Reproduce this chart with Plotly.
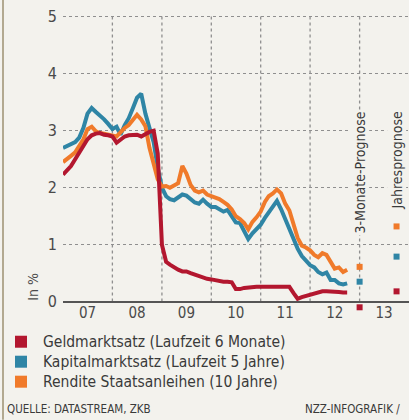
import plotly.graph_objects as go
import pandas as pd

# ---------------- data ----------------
dates = pd.date_range("2007-01-01", periods=70, freq="MS")

geldmarkt = [2.23, 2.30, 2.38, 2.50, 2.62, 2.75, 2.85, 2.92, 2.95, 2.96, 2.93, 2.92,
             2.90, 2.79, 2.85, 2.90, 2.92, 2.92, 2.93, 2.90, 2.95, 2.98, 3.00, 2.60,
             1.00, 0.70, 0.65, 0.60, 0.56, 0.53, 0.53, 0.50, 0.47, 0.44, 0.42, 0.40,
             0.39, 0.37, 0.36, 0.35, 0.35, 0.34, 0.22, 0.22, 0.24, 0.25, 0.25, 0.26,
             0.26, 0.26, 0.26, 0.26, 0.26, 0.26, 0.26, 0.26, 0.15, 0.05, 0.08, 0.10,
             0.12, 0.14, 0.16, 0.18, 0.18, 0.18, 0.17, 0.17, 0.16, 0.16]

kapitalmarkt = [2.70, 2.73, 2.76, 2.80, 2.88, 3.05, 3.30, 3.40, 3.33, 3.27, 3.20, 3.12,
                3.03, 3.07, 2.93, 3.10, 3.22, 3.40, 3.58, 3.65, 3.30, 3.05, 2.80, 2.35,
                2.00, 1.85, 1.80, 1.78, 1.82, 1.88, 1.86, 1.80, 1.74, 1.72, 1.79, 1.72,
                1.66, 1.66, 1.62, 1.58, 1.61, 1.48, 1.39, 1.38, 1.25, 1.10, 1.20, 1.28,
                1.35, 1.47, 1.57, 1.66, 1.77, 1.62, 1.45, 1.28, 1.10, 0.93, 0.80, 0.72,
                0.64, 0.60, 0.52, 0.48, 0.51, 0.38, 0.38, 0.32, 0.30, 0.32]

rendite = [2.45, 2.52, 2.56, 2.62, 2.72, 2.85, 3.03, 3.07, 2.99, 2.96, 2.95, 2.93,
           2.91, 2.90, 2.97, 3.05, 3.10, 3.18, 3.28, 3.20, 3.08, 2.70, 2.40, 2.15,
           2.02, 2.03, 2.00, 2.04, 2.08, 2.38, 2.25, 2.05, 1.95, 1.92, 1.95, 1.88,
           1.85, 1.82, 1.80, 1.75, 1.70, 1.62, 1.50, 1.45, 1.38, 1.27, 1.40, 1.48,
           1.58, 1.75, 1.85, 1.90, 1.97, 1.90, 1.72, 1.60, 1.38, 1.12, 0.98, 0.95,
           0.90, 0.82, 0.78, 0.85, 0.82, 0.68, 0.58, 0.60, 0.52, 0.56]

prognose_dates = ["2013-01-01", "2013-10-01"]
prognose_geld = [-0.10, 0.18]
prognose_kapital = [0.35, 0.79]
prognose_rendite = [0.61, 1.32]

year_labels = ["07", "08", "09", "10", "11", "12", "13"]
year_label_dates = ["2007-07-01", "2008-07-01", "2009-07-01", "2010-07-01",
                    "2011-07-01", "2012-07-01", "2013-07-01"]
year_bounds = ["2008-01-01", "2009-01-01", "2010-01-01", "2011-01-01",
               "2012-01-01", "2013-01-01"]
y_ticks = [0, 1, 2, 3, 4, 5]

legend_labels = ["Geldmarktsatz (Laufzeit 6 Monate)",
                 "Kapitalmarktsatz (Laufzeit 5 Jahre)",
                 "Rendite Staatsanleihen (10 Jahre)"]

# ---------------- style ----------------
RED = "#b3172f"
BLUE = "#2f85a5"
ORANGE = "#f07a2a"
PAPER = "#f3f2ed"
TXT = "#3a3a3a"
GRID = "#8f8f8f"
FONT = "DejaVu Sans Condensed, DejaVu Sans, sans-serif"

W, H = 409, 420
Y_MIN, Y_MAX = -0.2, 5.05
UNIT = 57.0                      # px per percentage point
ML, MR = 63, 0
MT = 14
PH = (Y_MAX - Y_MIN) * UNIT
MB = H - MT - PH
PW = W - ML - MR
ZERO_PX = MT + Y_MAX * UNIT      # pixel row of the zero line


def px(x):
    return (x - ML) / PW


def py(y):
    return (H - MB - y) / PH


fig = go.Figure()

fig.add_trace(go.Scatter(x=dates, y=kapitalmarkt, mode="lines",
                         line=dict(color=BLUE, width=4), showlegend=False))
fig.add_trace(go.Scatter(x=dates, y=rendite, mode="lines",
                         line=dict(color=ORANGE, width=4), showlegend=False))
fig.add_trace(go.Scatter(x=dates, y=geldmarkt, mode="lines",
                         line=dict(color=RED, width=4), showlegend=False))

for vals, col in [(prognose_geld, RED), (prognose_kapital, BLUE), (prognose_rendite, ORANGE)]:
    fig.add_trace(go.Scatter(x=prognose_dates, y=vals, mode="markers",
                             marker=dict(symbol="square", size=6, color=col),
                             cliponaxis=False, showlegend=False))

fig.update_layout(
    width=W, height=H,
    margin=dict(l=ML, r=MR, t=MT, b=MB, autoexpand=False),
    paper_bgcolor=PAPER, plot_bgcolor=PAPER,
    font=dict(family=FONT, color=TXT),
    showlegend=False,
)

fig.update_xaxes(
    type="date", range=["2007-01-01", "2014-01-01"], automargin=False,
    tickmode="array", tickvals=year_label_dates, ticktext=year_labels,
    showgrid=False, ticks="", tickfont=dict(size=15, color="#4a4a4a"),
    showline=False, zeroline=False,
    ticklabelstandoff=-int(round(-Y_MIN * UNIT)),
)
fig.update_yaxes(
    range=[Y_MIN, Y_MAX], automargin=False, tickmode="array", tickvals=y_ticks,
    ticktext=[str(v) for v in y_ticks],
    showgrid=True, gridcolor=GRID, griddash="dot", gridwidth=1.3,
    zeroline=True, zerolinecolor="#555555", zerolinewidth=1.5,
    ticks="", tickfont=dict(size=16, color="#4a4a4a"),
    ticklabelstandoff=5,
)

shapes = []
# vertical dotted year-boundary grid lines (from 0 up to top)
for d in year_bounds:
    shapes.append(dict(type="line", xref="x", yref="y", x0=d, x1=d,
                       y0=0, y1=Y_MAX, layer="below",
                       line=dict(color=GRID, width=1.3, dash="dot")))

annotations = []
# forecast labels
annotations.append(dict(x="2013-01-01", y=py(110), xref="x", yref="paper",
                        text="3-Monate-Prognose", textangle=-90, showarrow=False,
                        xanchor="center", yanchor="top", bgcolor=PAPER,
                        font=dict(size=14, color=TXT, family=FONT)))
annotations.append(dict(x="2013-10-01", y=py(110), xref="x", yref="paper",
                        text="Jahresprognose", textangle=-90, showarrow=False,
                        xanchor="center", yanchor="top", bgcolor=PAPER,
                        font=dict(size=14, color=TXT, family=FONT)))
# unit label
annotations.append(dict(x=px(33), y=py(287), xref="paper", yref="paper",
                        text="In %", textangle=-90, showarrow=False,
                        xanchor="center", yanchor="middle",
                        font=dict(size=14, color="#4a4a4a", family=FONT)))

# legend
for i, (lab, col) in enumerate(zip(legend_labels, [RED, BLUE, ORANGE])):
    yc = 342 + 20 * i
    shapes.append(dict(type="rect", xref="paper", yref="paper",
                       x0=px(15), x1=px(27), y0=py(yc + 6), y1=py(yc - 6),
                       fillcolor=col, line=dict(width=0)))
    annotations.append(dict(x=px(41), y=py(yc), xref="paper", yref="paper",
                            text=lab, showarrow=False, xanchor="left",
                            yanchor="middle",
                            font=dict(size=15.5, color=TXT, family=FONT)))

# source lines
annotations.append(dict(x=px(5), y=py(409), xref="paper", yref="paper",
                        text="QUELLE: DATASTREAM, ZKB", showarrow=False,
                        xanchor="left", yanchor="middle",
                        font=dict(size=11.5, color=TXT, family=FONT)))
annotations.append(dict(x=px(303), y=py(409), xref="paper", yref="paper",
                        text="NZZ-INFOGRAFIK /", showarrow=False,
                        xanchor="left", yanchor="middle",
                        font=dict(size=11.5, color=TXT, family=FONT)))

# page border line on the left
shapes.append(dict(type="line", xref="paper", yref="paper",
                   x0=px(3), x1=px(3), y0=py(420), y1=py(0),
                   line=dict(color="#9c9170", width=1.5)))

fig.update_layout(annotations=annotations, shapes=shapes)

fig.write_html("out.html",
               config={"displayModeBar": False},
               post_script="document.body.style.margin='0';"
                           "document.body.style.background='%s';" % PAPER)
